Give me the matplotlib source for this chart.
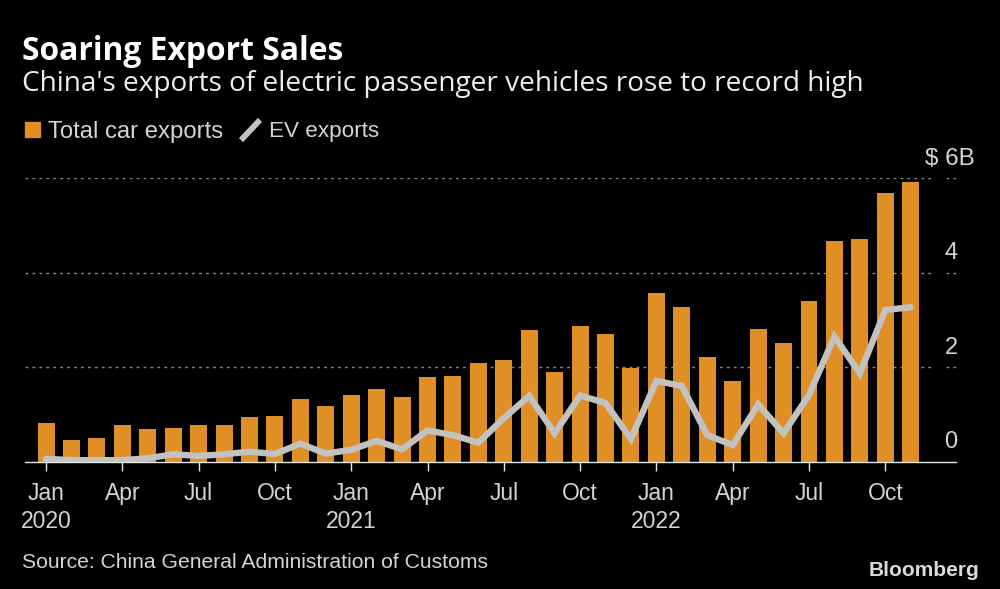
import matplotlib
matplotlib.use("Agg")
import matplotlib.pyplot as plt
from matplotlib.lines import Line2D
from matplotlib.patches import Rectangle

# Monthly values in $ billions, Jan 2020 to Nov 2022
total_exports = [0.81, 0.45, 0.49, 0.78, 0.68, 0.71, 0.78, 0.78, 0.94, 0.97, 1.33, 1.17,
                 1.40, 1.53, 1.36, 1.79, 1.82, 2.08, 2.16, 2.78, 1.90, 2.87, 2.71, 1.99,
                 3.57, 3.27, 2.22, 1.70, 2.81, 2.52, 3.40, 4.67, 4.71, 5.69, 5.92]
ev_exports = [0.06, 0.03, 0.03, 0.03, 0.07, 0.155, 0.12, 0.155, 0.21, 0.16, 0.38, 0.17,
              0.25, 0.44, 0.26, 0.66, 0.56, 0.40, 0.92, 1.39, 0.60, 1.40, 1.24, 0.48,
              1.71, 1.60, 0.56, 0.35, 1.21, 0.60, 1.41, 2.65, 1.87, 3.21, 3.27]
tick_pos = [0, 3, 6, 9, 12, 15, 18, 21, 24, 27, 30, 33]
tick_labels = ["Jan\n2020", "Apr", "Jul", "Oct", "Jan\n2021", "Apr", "Jul", "Oct",
               "Jan\n2022", "Apr", "Jul", "Oct"]
y_grid = [2, 4, 6]
y_labels = ["0", "2", "4", "$ 6B"]

ORANGE = "#E08E26"
GREY = "#C2C2C0"
TEXT = "#D4D4D4"
W, H = 1000, 589
FONT = "Liberation Sans"


def fx(px):
    return px / W


def fy(py):
    return 1 - py / H


fig = plt.figure(figsize=(10, 5.89), dpi=100, facecolor="black")
# axes placed so bars line up with the reference pixels
ax = fig.add_axes([fx(25), fy(461.6), fx(931), (461.6 - 178.3) / H], facecolor="black")

x = list(range(len(total_exports)))
ax.bar(x, total_exports, width=0.668, color=ORANGE, zorder=2)
ax.plot(x, ev_exports, color=GREY, lw=4.6, solid_joinstyle="miter", solid_capstyle="round", zorder=3)

ax.set_xlim(-0.826, 35.78)
ax.set_ylim(0, 6)

# dotted gridlines, with a gap around the value labels
ax.hlines(y_grid, -0.826, 34.9, color="#8A8A8A", lw=1, linestyles=(0, (2, 3)), zorder=1)
ax.hlines(y_grid, 35.4, 35.78, color="#8A8A8A", lw=1, linestyles=(0, (2, 3)), zorder=1)

for s in ["top", "left", "right"]:
    ax.spines[s].set_visible(False)
ax.spines["bottom"].set_color("#E6E6E6")
ax.spines["bottom"].set_linewidth(1)
ax.spines["bottom"].set_zorder(4)
ax.set_yticks([])
ax.set_xticks(tick_pos)
ax.set_xticklabels(tick_labels, fontsize=16.5, color=TEXT, family=FONT, linespacing=1.3)
ax.tick_params(axis="x", length=6.5, width=1, color="#E6E6E6", pad=8)

# value labels sit above their gridlines
for py, label in zip([442, 348, 253], y_labels[:3]):
    fig.text(fx(951), fy(py), label, color=TEXT, fontsize=17, family=FONT, ha="center", va="center")
fig.text(fx(975), fy(159), y_labels[3], color=TEXT, fontsize=17.5, family=FONT, ha="right", va="center")

# heading
fig.text(fx(22), fy(51), "Soaring Export Sales", color="white", fontsize=22.9, fontweight="bold",
         family="Open Sans", ha="left", va="center")
fig.text(fx(22), fy(84), "China's exports of electric passenger vehicles rose to record high",
         color="#EEEEEE", fontsize=20.15, family="Open Sans", ha="left", va="center")

# legend drawn by hand to keep its inline layout
fig.add_artist(Rectangle((fx(25), fy(137)), 15 / W, 15 / H, color=ORANGE, transform=fig.transFigure))
fig.text(fx(48), fy(132), "Total car exports", color=TEXT, fontsize=17.2, family=FONT, ha="left", va="center")
fig.add_artist(Line2D([fx(243), fx(258)], [fy(138), fy(122)], color=GREY, lw=4.2, transform=fig.transFigure))
fig.text(fx(269), fy(132), "EV exports", color=TEXT, fontsize=16.2, family=FONT, ha="left", va="center")

# footer
fig.text(fx(22), fy(562), "Source: China General Administration of Customs", color=TEXT, fontsize=15.2,
         family=FONT, ha="left", va="center")
fig.text(fx(979), fy(570), "Bloomberg", color="#DADADA", fontsize=15, fontweight="bold",
         family="Liberation Sans", ha="right", va="center")

fig.savefig("out.png", dpi=100, facecolor="black")
